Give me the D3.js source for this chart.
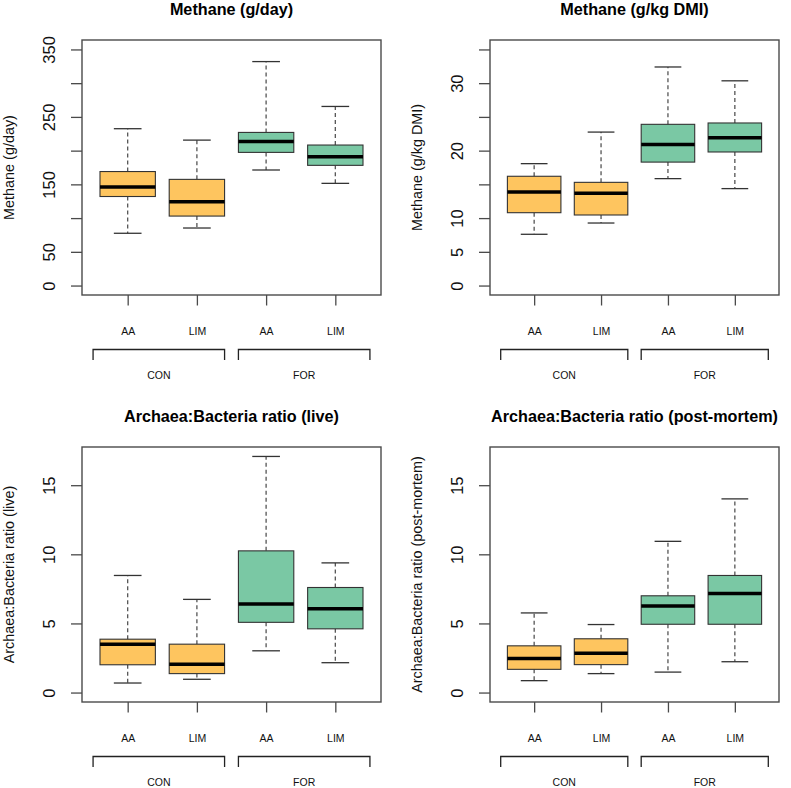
<!DOCTYPE html>
<html>
<head>
<meta charset="utf-8">
<script src="https://cdn.jsdelivr.net/npm/d3@7"></script>
<style>
  html, body { margin: 0; padding: 0; background: #fff; }
  svg { display: block; font-family: "Liberation Sans", Arial, sans-serif; }
</style>
</head>
<body>
<svg id="chart" width="791" height="788"></svg>
<script>
// ---------- data ----------
const categories = ["AA", "LIM", "AA", "LIM"];
const diets = ["CON", "FOR"];
const dietSpans = [[0.5, 2.4], [2.6, 4.5]];
const fillColors = ["#FEC55F", "#FEC55F", "#7AC8A4", "#7AC8A4"];

const titles = ["Methane (g/day)", "Methane (g/kg DMI)", "Archaea:Bacteria ratio (live)", "Archaea:Bacteria ratio (post-mortem)"];
const yTitles = ["Methane (g/day)", "Methane (g/kg DMI)", "Archaea:Bacteria ratio (live)", "Archaea:Bacteria ratio (post-mortem)"];

// [lower whisker, Q1, median, Q3, upper whisker]
const methaneDay = [[77.5, 132, 146, 169, 232.5], [85.3, 103, 124.4, 157.4, 215.6], [171.3, 197.4, 213.7, 227, 332], [151.5, 178.2, 191, 208.3, 265.5]];
const methaneDMI = [[7.6, 10.8, 13.87, 16.2, 18.07], [9.27, 10.46, 13.7, 15.3, 22.75], [15.85, 18.3, 20.9, 23.9, 32.4], [14.37, 19.8, 21.9, 24.1, 30.35]];
const ratioLive = [[0.69, 2.01, 3.5, 3.86, 8.47], [0.96, 1.37, 2.04, 3.5, 6.74], [3.02, 5.08, 6.41, 10.25, 17.08], [2.16, 4.61, 6.07, 7.6, 9.38]];
const ratioPost = [[0.86, 1.68, 2.47, 3.38, 5.76], [1.37, 2.02, 2.85, 3.89, 4.92], [1.48, 4.94, 6.26, 7.0, 10.94], [2.23, 4.94, 7.17, 8.47, 14.01]];

const yLimits = [[0, 350], [0, 35], [0, 17.08], [0, 17.08]];
const tickValues1 = [0, 50, 100, 150, 200, 250, 300, 350];
const tickLabels1 = ["0", "50", "", "150", "", "250", "", "350"];
const tickValues2 = [0, 5, 10, 15, 20, 25, 30, 35];
const tickLabels2 = ["0", "5", "10", "", "20", "", "30", ""];
const tickValues3 = [0, 5, 10, 15];
const tickLabels3 = ["0", "5", "10", "15"];
const tickValues4 = [0, 5, 10, 15];
const tickLabels4 = ["0", "5", "10", "15"];

// ---------- layout ----------
const panels = [
  { x0: 82, x1: 381, y0: 40, y1: 295, data: methaneDay, ticks: tickValues1, labels: tickLabels1 },
  { x0: 490, x1: 779, y0: 40, y1: 295, data: methaneDMI, ticks: tickValues2, labels: tickLabels2 },
  { x0: 82, x1: 381, y0: 447, y1: 702, data: ratioLive, ticks: tickValues3, labels: tickLabels3 },
  { x0: 490, x1: 779, y0: 447, y1: 702, data: ratioPost, ticks: tickValues4, labels: tickLabels4 }
];

const svg = d3.select("#chart");
const frameColor = "#4a4a4a";

panels.forEach((p, i) => {
  const n = categories.length;
  const xExt = 0.04 * n;
  const x = d3.scaleLinear().domain([0.5 - xExt * 0.5 * 0 - 0.16, n + 0.5 + 0.16]).range([p.x0, p.x1]);
  const [lo, hi] = yLimits[i];
  const pad = (hi - lo) * 0.04;
  const y = d3.scaleLinear().domain([lo - pad, hi + pad]).range([p.y1, p.y0]);
  const g = svg.append("g");
  const unit = x(2) - x(1);
  const boxW = 0.8 * unit;
  const capW = boxW * 0.5;

  // title
  g.append("text")
    .attr("x", (p.x0 + p.x1) / 2).attr("y", p.y0 - 31.5)
    .attr("text-anchor", "middle").attr("dominant-baseline", "central")
    .attr("font-weight", "bold").attr("font-size", 16.2).attr("fill", "#000")
    .text(titles[i]);

  // y title
  g.append("text")
    .attr("transform", `translate(${p.x0 - 73.5},${(p.y0 + p.y1) / 2}) rotate(-90)`)
    .attr("text-anchor", "middle").attr("dominant-baseline", "central")
    .attr("font-size", 14.4).attr("fill", "#111")
    .text(yTitles[i]);

  // y axis ticks & labels
  const yAxis = d3.axisLeft(y).tickValues(p.ticks).tickSize(11).tickFormat((d, k) => p.labels[k]);
  const ya = g.append("g").attr("transform", `translate(${p.x0},0)`).call(yAxis);
  ya.select(".domain").remove();
  ya.selectAll(".tick line").attr("stroke", frameColor).attr("stroke-width", 1.3);
  ya.selectAll(".tick text")
    .attr("font-family", "Liberation Sans, Arial, sans-serif")
    .attr("font-size", 16.5).attr("fill", "#111")
    .attr("x", 0).attr("dy", null)
    .attr("text-anchor", "middle").attr("dominant-baseline", "central")
    .attr("transform", "translate(-33,0) rotate(-90)");

  // x axis ticks & labels
  const xAxis = d3.axisBottom(x).tickValues(d3.range(1, n + 1)).tickSize(10.5).tickFormat((d) => categories[d - 1]);
  const xa = g.append("g").attr("transform", `translate(0,${p.y1})`).call(xAxis);
  xa.select(".domain").remove();
  xa.selectAll(".tick line").attr("stroke", frameColor).attr("stroke-width", 1.3);
  xa.selectAll(".tick text")
    .attr("font-family", "Liberation Sans, Arial, sans-serif")
    .attr("font-size", 10.5).attr("fill", "#111")
    .attr("y", 36).attr("dy", null).attr("dominant-baseline", "central");

  // diet brackets
  diets.forEach((dname, k) => {
    const [a, b] = dietSpans[k];
    const top = p.y1 + 54.5, bot = p.y1 + 65;
    g.append("path")
      .attr("d", `M${x(a)},${bot}V${top}H${x(b)}V${bot}`)
      .attr("fill", "none").attr("stroke", "#222").attr("stroke-width", 1.3);
    g.append("text")
      .attr("x", x((a + b) / 2)).attr("y", p.y1 + 79.5)
      .attr("text-anchor", "middle").attr("dominant-baseline", "central")
      .attr("font-size", 10.5).attr("fill", "#111")
      .text(dname);
  });

  // boxes
  p.data.forEach((s, k) => {
    const cx = x(k + 1);
    const [wl, q1, med, q3, wh] = s;
    const bg = g.append("g");
    // whiskers
    bg.append("line").attr("x1", cx).attr("x2", cx).attr("y1", y(q3)).attr("y2", y(wh))
      .attr("stroke", "#555").attr("stroke-width", 1.3).attr("stroke-dasharray", "4,3");
    bg.append("line").attr("x1", cx).attr("x2", cx).attr("y1", y(q1)).attr("y2", y(wl))
      .attr("stroke", "#555").attr("stroke-width", 1.3).attr("stroke-dasharray", "4,3");
    // caps
    bg.append("line").attr("x1", cx - capW / 2).attr("x2", cx + capW / 2).attr("y1", y(wh)).attr("y2", y(wh))
      .attr("stroke", "#333").attr("stroke-width", 1.3);
    bg.append("line").attr("x1", cx - capW / 2).attr("x2", cx + capW / 2).attr("y1", y(wl)).attr("y2", y(wl))
      .attr("stroke", "#333").attr("stroke-width", 1.3);
    // box
    bg.append("rect")
      .attr("x", cx - boxW / 2).attr("y", y(q3))
      .attr("width", boxW).attr("height", y(q1) - y(q3))
      .attr("fill", fillColors[k]).attr("stroke", "#333").attr("stroke-width", 1.1);
    // median
    bg.append("line").attr("x1", cx - boxW / 2).attr("x2", cx + boxW / 2).attr("y1", y(med)).attr("y2", y(med))
      .attr("stroke", "#000").attr("stroke-width", 3.5);
  });

  // frame
  g.append("rect")
    .attr("x", p.x0).attr("y", p.y0).attr("width", p.x1 - p.x0).attr("height", p.y1 - p.y0)
    .attr("fill", "none").attr("stroke", frameColor).attr("stroke-width", 1.4);
});
</script>
</body>
</html>
